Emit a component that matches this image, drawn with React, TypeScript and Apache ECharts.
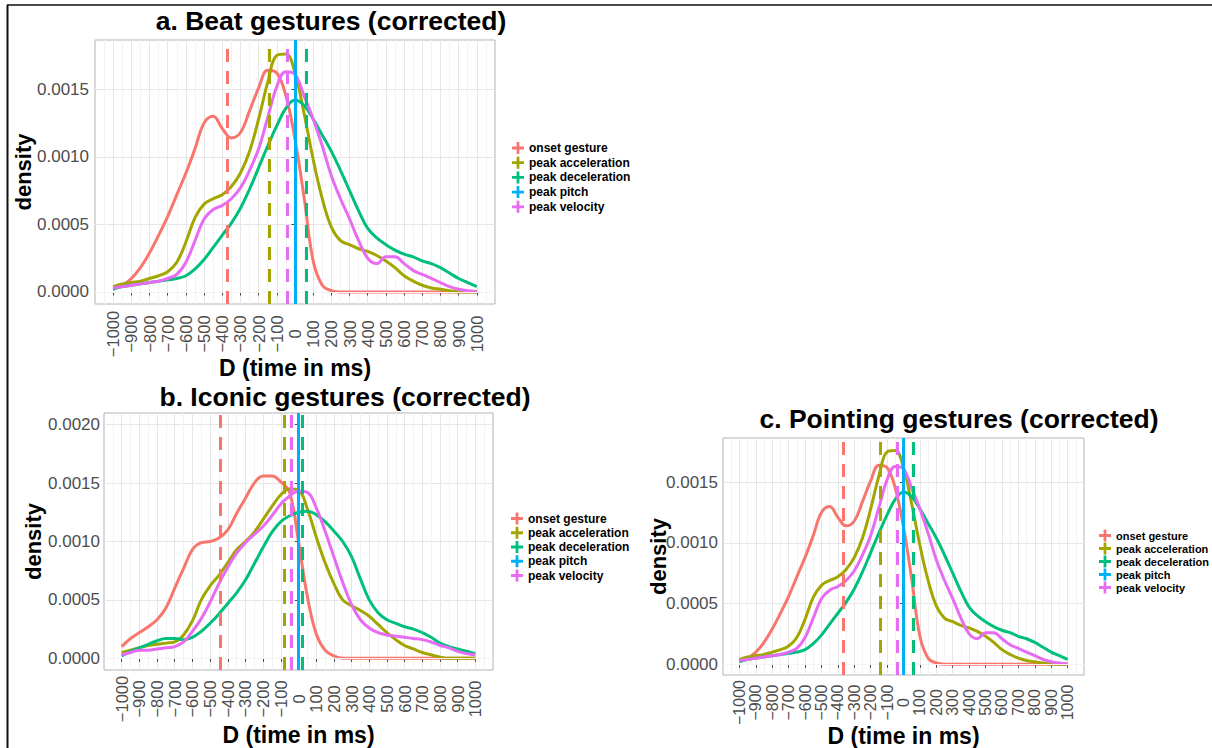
import React, { useEffect, useRef } from 'react';
import * as echarts from 'echarts';

const FONT = '"Liberation Sans", Arial, Helvetica, sans-serif';
const CROSS = 'path://M5,0H8V5H13V8H8V13H5V8H0V5H5Z';

// sample positions (ms)
const timeMs = [-1000, -950, -900, -850, -800, -750, -700, -650, -600, -550, -500, -450, -400, -350, -300, -250, -200, -150, -100, -50, 0, 50, 100, 150, 200, 250, 300, 350, 400, 450, 500, 550, 600, 650, 700, 750, 800, 850, 900, 950, 1000];
const xTickValues = [-1000, -900, -800, -700, -600, -500, -400, -300, -200, -100, 0, 100, 200, 300, 400, 500, 600, 700, 800, 900, 1000];
const yTicksA = [0, 0.0005, 0.001, 0.0015];
const yTicksB = [0, 0.0005, 0.001, 0.0015, 0.002];
const yMinor = [0.00025, 0.00075, 0.00125, 0.00175];

const groups = ['onset gesture', 'peak acceleration', 'peak deceleration', 'peak pitch', 'peak velocity'];
const colors = ['#F8766D', '#A3A500', '#00BF7D', '#00B0F6', '#E76BF3'];

// a. Beat gestures
const beatOnset = [0.00003, 0.00005, 0.0001, 0.00018, 0.00029, 0.00042, 0.00056, 0.00072, 0.00088, 0.00106, 0.00125, 0.0013, 0.00121, 0.00114, 0.00118, 0.00134, 0.00151, 0.00164, 0.00162, 0.00145, 0.00113, 0.0007, 0.00023, 0.00005, 0.00001, 0, 0, 0, 0, 0, 0, 0, 0, 0, 0, 0, 0, 0, 0, 0, 0];
const beatAccel = [0.00004, 0.00006, 0.00007, 0.00008, 0.0001, 0.00012, 0.00015, 0.00022, 0.00037, 0.00055, 0.00065, 0.00069, 0.00072, 0.00078, 0.00088, 0.00104, 0.00128, 0.00155, 0.00175, 0.00176, 0.00162, 0.00132, 0.00098, 0.00069, 0.00048, 0.00038, 0.00035, 0.00032, 0.0003, 0.00027, 0.00023, 0.00018, 0.00012, 0.00008, 0.00005, 0.00003, 0.00002, 0.00001, 0, 0, 0];
const beatDecel = [0.00002, 0.00004, 0.00005, 0.00006, 0.00007, 0.00008, 0.00009, 0.0001, 0.00012, 0.00017, 0.00024, 0.00033, 0.00042, 0.00051, 0.00062, 0.00076, 0.00092, 0.00108, 0.00123, 0.00136, 0.00142, 0.00138, 0.00128, 0.00116, 0.00104, 0.0009, 0.00075, 0.0006, 0.00047, 0.0004, 0.00035, 0.00031, 0.00028, 0.00026, 0.00023, 0.00021, 0.00018, 0.00014, 0.0001, 0.00007, 0.00004];
const beatVel = [0.00003, 0.00004, 0.00005, 0.00006, 0.00007, 0.00008, 0.0001, 0.00013, 0.00022, 0.00038, 0.00054, 0.00061, 0.00064, 0.00069, 0.00077, 0.0009, 0.00106, 0.00129, 0.00152, 0.00163, 0.00161, 0.00145, 0.00128, 0.00108, 0.00086, 0.00069, 0.00054, 0.00038, 0.00025, 0.00021, 0.00026, 0.00026, 0.00021, 0.00016, 0.00013, 0.0001, 0.00007, 0.00004, 0.00002, 0.00001, 0];
const beatMeans = [-370, -142, 60, 0, -40];

// b. Iconic gestures
const iconicOnset = [0.0001, 0.00017, 0.00022, 0.00027, 0.00033, 0.00043, 0.0006, 0.00077, 0.00093, 0.00099, 0.001, 0.00103, 0.0011, 0.00124, 0.00137, 0.0015, 0.00156, 0.00156, 0.00151, 0.00142, 0.001, 0.00053, 0.00021, 0.00007, 0.00002, 0, 0, 0, 0, 0, 0, 0, 0, 0, 0, 0, 0, 0, 0, 0, 0];
const iconicAccel = [0.00005, 0.00007, 0.00009, 0.00011, 0.00012, 0.00013, 0.00014, 0.0002, 0.00032, 0.0005, 0.00062, 0.00071, 0.00082, 0.00093, 0.001, 0.00108, 0.00119, 0.0013, 0.0014, 0.00145, 0.00144, 0.00128, 0.00104, 0.00082, 0.00064, 0.0005, 0.00045, 0.00041, 0.00036, 0.00029, 0.00022, 0.00016, 0.00011, 0.00008, 0.00005, 0.00003, 0.00001, 0, 0, 0, 0];
const iconicDecel = [0.00002, 0.00006, 0.00009, 0.00012, 0.00015, 0.00017, 0.00017, 0.00016, 0.00018, 0.00023, 0.0003, 0.00038, 0.00047, 0.00056, 0.00067, 0.00081, 0.00095, 0.00108, 0.00117, 0.00122, 0.00125, 0.00126, 0.00123, 0.00117, 0.00109, 0.001, 0.00087, 0.00068, 0.0005, 0.00039, 0.00033, 0.0003, 0.00027, 0.00025, 0.00022, 0.00018, 0.00013, 0.0001, 0.00008, 0.00006, 0.00004];
const iconicVel = [0.00003, 0.00005, 0.00007, 0.00007, 0.00008, 0.00009, 0.0001, 0.00014, 0.00023, 0.00034, 0.00048, 0.00064, 0.00078, 0.0009, 0.00099, 0.00106, 0.00113, 0.00122, 0.00132, 0.00139, 0.00143, 0.00142, 0.00129, 0.00109, 0.00087, 0.00065, 0.00046, 0.00033, 0.00026, 0.00022, 0.0002, 0.00019, 0.00018, 0.00017, 0.00016, 0.00014, 0.00011, 0.00009, 0.00006, 0.00004, 0.00003];
const iconicMeans = [-443, -78, 22, 0, -41];

// c. Pointing gestures (same curves as in panel a in the source figure)
const pointingOnset = beatOnset;
const pointingAccel = beatAccel;
const pointingDecel = beatDecel;
const pointingVel = beatVel;
const pointingMeans = beatMeans;

const panels = [
  {
    title: 'a. Beat gestures (corrected)', titleX: 331, titleY: 7,
    grid: { left: 95, top: 40, width: 400, height: 264 },
    yMin: -0.0000888, yMax: 0.001864, yTicks: yTicksA,
    yLabelMargin: 6, xLabelMargin: 30, xLabelSize: 16.5, nameGapX: 52, nameGapY: 61,
    legend: { left: 512, top: 142, gap: 2.7, size: 12 },
    curves: [beatOnset, beatAccel, beatDecel, null, beatVel], means: beatMeans,
  },
  {
    title: 'b. Iconic gestures (corrected)', titleX: 345, titleY: 383,
    grid: { left: 104, top: 413, width: 389, height: 257 },
    yMin: -0.0001, yMax: 0.0021, yTicks: yTicksB,
    yLabelMargin: 4, xLabelMargin: 29, xLabelSize: 16.5, nameGapX: 53, nameGapY: 60,
    legend: { left: 511, top: 512.5, gap: 2.25, size: 12 },
    curves: [iconicOnset, iconicAccel, iconicDecel, null, iconicVel], means: iconicMeans,
  },
  {
    title: 'c. Pointing gestures (corrected)', titleX: 959, titleY: 405,
    grid: { left: 723, top: 438, width: 361, height: 237 },
    yMin: -0.0000888, yMax: 0.001864, yTicks: yTicksA,
    yLabelMargin: 5, xLabelMargin: 27.5, xLabelSize: 16, nameGapX: 49, nameGapY: 54,
    legend: { left: 1099, top: 529.5, gap: 1, size: 11 },
    curves: [pointingOnset, pointingAccel, pointingDecel, null, pointingVel], means: pointingMeans,
  },
];

const fmtX = (v: number) => (v < 0 ? '\u2212' + Math.abs(v) : String(v));

function buildOption() {
  const grid: any[] = [];
  const xAxis: any[] = [];
  const yAxis: any[] = [];
  const series: any[] = [];
  const title: any[] = [];
  const legend: any[] = [];

  panels.forEach((p, i) => {
    grid.push({ ...p.grid, show: true, borderColor: '#b3b3b3', borderWidth: 1, containLabel: false, outerBoundsMode: 'none' });
    title.push({
      text: p.title, left: p.titleX, top: p.titleY, textAlign: 'center', padding: 0,
      textStyle: { fontSize: 26.5, fontWeight: 'bold', color: '#000', fontFamily: FONT },
    });
    legend.push({
      orient: 'vertical', left: p.legend.left, top: p.legend.top, padding: 0,
      itemWidth: 12, itemHeight: 13, itemGap: p.legend.gap, icon: CROSS,
      data: groups, selectedMode: false,
      itemStyle: { borderWidth: 0 },
      textStyle: { fontSize: p.legend.size, fontWeight: 'bold', color: '#000', fontFamily: FONT },
    });
    xAxis.push({
      type: 'value', gridIndex: i, min: -1100, max: 1100, interval: 100,
      name: 'D (time in ms)', nameLocation: 'middle', nameGap: p.nameGapX, nameMoveOverlap: false,
      nameTextStyle: { fontSize: 23, fontWeight: 'bold', color: '#000', fontFamily: FONT },
      axisLine: { show: false },
      axisTick: { show: true, length: 3.5, lineStyle: { color: '#444', width: 1 }, customValues: xTickValues },
      axisLabel: {
        customValues: xTickValues, rotate: 90, align: 'center', verticalAlign: 'middle',
        showMinLabel: true, showMaxLabel: true, hideOverlap: false, interval: 0,
        margin: p.xLabelMargin, fontSize: p.xLabelSize, color: '#4d4d4d', fontFamily: FONT, formatter: fmtX,
      },
      splitLine: { show: true, lineStyle: { color: '#e6e6e6', width: 1 } },
      minorTick: { show: false, splitNumber: 2 },
      minorSplitLine: { show: true, lineStyle: { color: '#f3f3f3', width: 1 } },
    });
    yAxis.push({
      type: 'value', gridIndex: i, min: p.yMin, max: p.yMax,
      name: 'density', nameLocation: 'middle', nameGap: p.nameGapY, nameMoveOverlap: false,
      nameTextStyle: { fontSize: 22, fontWeight: 'bold', color: '#000', fontFamily: FONT },
      axisLine: { show: false },
      axisTick: { show: true, length: 3.5, lineStyle: { color: '#444', width: 1 }, customValues: p.yTicks },
      axisLabel: {
        customValues: p.yTicks, margin: p.yLabelMargin, fontSize: 17, color: '#4d4d4d', fontFamily: FONT,
        formatter: (v: number) => v.toFixed(4),
      },
      splitLine: { show: true, lineStyle: { color: '#e6e6e6', width: 1 } },
    });
    // minor horizontal grid lines
    series.push({
      type: 'line', xAxisIndex: i, yAxisIndex: i, data: [], silent: true, z: 1,
      markLine: {
        silent: true, symbol: ['none', 'none'], label: { show: false }, emphasis: { disabled: true },
        lineStyle: { color: '#f3f3f3', width: 1, type: 'solid' },
        data: yMinor.filter((v) => v < p.yMax).map((v) => ({ yAxis: v })),
      },
    });
    // density curves
    p.curves.forEach((vals, g) => {
      if (!vals) return;
      series.push({
        type: 'line', name: groups[g], xAxisIndex: i, yAxisIndex: i, z: 3,
        data: timeMs.map((t, k) => [t, vals[k]]),
        showSymbol: false, smooth: 0.4, silent: true,
        itemStyle: { color: colors[g] },
        lineStyle: { color: colors[g], width: 3 },
      });
    });
    // mean lines
    p.means.forEach((m, g) => {
      series.push({
        type: 'line', name: groups[g], xAxisIndex: i, yAxisIndex: i, z: 4, data: [], silent: true,
        itemStyle: { color: colors[g] },
        lineStyle: { color: colors[g], width: 3 },
        markLine: {
          silent: true, symbol: ['none', 'none'], label: { show: false }, emphasis: { disabled: true },
          lineStyle: { color: colors[g], width: 3, type: groups[g] === 'peak pitch' ? 'solid' : [13, 9] },
          data: [{ xAxis: m }],
        },
      });
    });
  });

  return {
    animation: false,
    textStyle: { fontFamily: FONT },
    title, legend, grid, xAxis, yAxis, series,
    graphic: [
      { type: 'line', shape: { x1: 7, y1: 5, x2: 1212, y2: 5 }, style: { stroke: '#4a4a4a', lineWidth: 2 } },
      { type: 'line', shape: { x1: 7.5, y1: 5, x2: 7.5, y2: 748 }, style: { stroke: '#111', lineWidth: 2 } },
    ],
  };
}

export default function App() {
  const ref = useRef<HTMLDivElement>(null);
  useEffect(() => {
    if (!ref.current) return;
    const chart = echarts.init(ref.current, null, { renderer: 'svg' });
    chart.setOption(buildOption() as any);
    return () => chart.dispose();
  }, []);
  return (
    <div
      ref={ref}
      style={{ position: 'absolute', left: 0, top: 0, width: 1212, height: 748, background: '#fff' }}
    />
  );
}
